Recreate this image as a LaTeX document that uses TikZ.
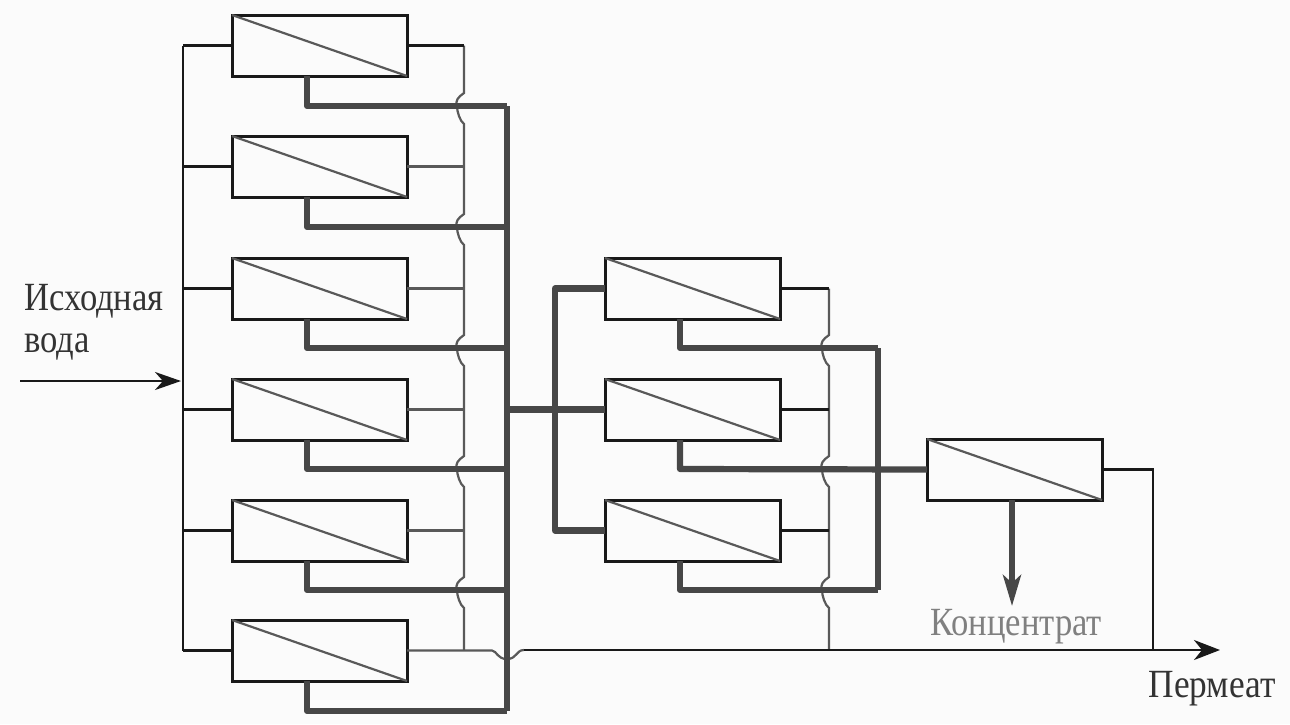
\documentclass[tikz,border=0pt]{standalone}
\usepackage{fontspec}
\setmainfont{Liberation Serif}
\usetikzlibrary{calc,arrows.meta}
\definecolor{thickc}{gray}{0.28}
\definecolor{thinc}{gray}{0.35}
\definecolor{darkc}{gray}{0.1}
\tikzset{
 x=1pt,y=-1pt,
 module/.style={draw=darkc,line width=3pt,fill=none,minimum width=175pt,minimum height=61pt,inner sep=0pt,outer sep=0pt,anchor=north west},
 diag/.style={draw=thinc,line width=2.2pt},
 feed/.style={draw=darkc,line width=2.8pt},
 thinline/.style={draw=thinc,line width=2.2pt},
 blackline/.style={draw=darkc,line width=2.8pt},
 heavy/.style={draw=thickc,line width=6.2pt,line join=round},
 busline/.style={draw=darkc,line width=1.8pt},
 lab/.style={font=\fontsize{40}{44}\selectfont,text=black!80,inner sep=0pt,xscale=0.865},
 graylab/.style={lab,text=black!50}
}
\newcommand{\modbox}[3]{%
 \node[module] (#1) at (#2,#3) {};
 \draw[diag] (#1.north west) -- (#1.south east);
 \coordinate (#1b) at ($(#1.south west)+(75,0)$);
}
% vertical line hop centred on y = #2 at x = #1
\newcommand{\hopdown}[2]{%
 -- (#1,#2-13) .. controls (#1-6,#2-9) and (#1-9,#2-5) .. (#1-7,#2)
 .. controls (#1-7,#2+6) and (#1-4,#2+15) .. (#1,#2+18)
}
\begin{document}
\begin{tikzpicture}
\useasboundingbox (0,0) rectangle (1290,724);
\fill[black!1.5] (0,0) rectangle (1290,724);
\modbox{a1}{232}{15}
\modbox{a2}{232}{136}
\modbox{a3}{232}{258}
\modbox{a4}{232}{379}
\modbox{a5}{232}{500}
\modbox{a6}{232}{620}
\modbox{b1}{605}{258}
\modbox{b2}{605}{379}
\modbox{b3}{605}{500}
\modbox{c1}{927}{439}
% input bus
\coordinate (busT) at (183,45.5);
\coordinate (busB) at (183,650.5);
\draw[busline] (busT) -- (busB);
\foreach \m in {a1,a2,a3,a4,a5,a6}{ \draw[feed] (\m.west) -- (\m.west -| busT); }
\coordinate (inS) at (20,381);
\coordinate (inE) at (181,381);
\draw[busline,line width=2.6pt,-{Stealth[length=26pt,width=18pt,inset=8pt]}] (inS) -- (inE);
% first stage permeate collector
\draw[thinline] (464,45.5) \hopdown{464}{106} \hopdown{464}{227} \hopdown{464}{348} \hopdown{464}{469} \hopdown{464}{590} -- (464,650);
\draw[blackline] (a1.east) -- (464,45.5);
\foreach \m in {a2,a3,a4,a5}{ \draw[thinline] (\m.east) -- (\m.east -| 464,0); }
% second stage permeate collector
\draw[thinline] (829,288.5) \hopdown{829}{348} \hopdown{829}{469} \hopdown{829}{590} -- (829,650);
\foreach \m in {b1,b2,b3}{ \draw[blackline] (\m.east) -- (\m.east -| 829,0); }
% main permeate line with hop under the heavy riser
\coordinate (permE) at (1220,650);
\draw[thinline] (a6.east) -- (492,650.5) .. controls (497,651) and (497,659) .. (507,659)
 .. controls (517,659) and (516,650) .. (524,650);
\draw[busline,line width=2.6pt,-{Stealth[length=26pt,width=20pt,inset=8pt]}] (524,650) -- (permE);
\draw[blackline,line width=2.4pt] (c1.east) -- (1153,469.5) -- (1153,650);
% heavy concentrate lines, stage 1
\coordinate (r1) at (507,106);
\foreach \m/\y in {a1/106,a2/227,a3/348,a4/469,a5/590,a6/711}{
 \draw[heavy] (\m b) -- (\m b |- 0,\y) -- (507,\y);
}
\draw[heavy] (r1) -- (507,711);
% stage 2 feed
\draw[heavy] (507,409.5) -- (b2.west);
\draw[heavy] (b1.west) -- (555,288.5) -- (555,530.5) -- (b3.west);
% stage 2 concentrate
\foreach \m/\y in {b1/348,b3/590}{
 \draw[heavy] (\m b) -- (\m b |- 0,\y) -- (878,\y);
}
\draw[heavy] (878,348) -- (878,590);
\draw[heavy] (b2b) -- (b2b |- 0,469) -- (c1.west);
% final concentrate
\coordinate (cE) at (1012,606);
\draw[draw=thickc,line width=5.5pt,-{Stealth[length=31pt,width=18pt,inset=8pt]}] (c1.south -| cE) -- (cE);
% labels
\node[lab,anchor=base west] (t1) at (24,310) {Исходная};
\node[lab,anchor=base west] (t2) at (24,352) {вода};
\node[graylab,anchor=base] (t3) at (1016,635) {Концентрат};
\node[lab,xscale=1.02,anchor=base] (t4) at (1212,697) {Пермеат};
\end{tikzpicture}
\end{document}
